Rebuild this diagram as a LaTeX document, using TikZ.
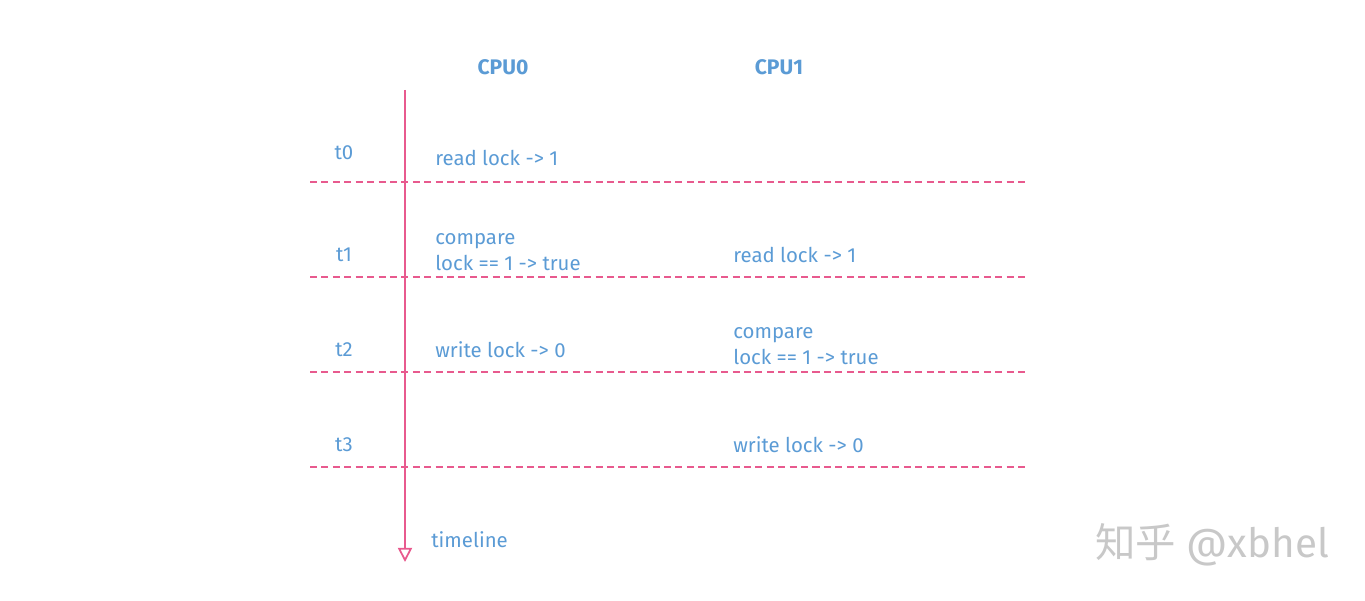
\documentclass[tikz,border=0pt]{standalone}
\usepackage{fontspec}
\setmainfont{Fira Sans}
\newfontfamily\cjkfont{Noto Sans CJK SC}
\usepackage{xcolor}
\usetikzlibrary{arrows.meta,positioning}
\definecolor{lineblue}{HTML}{5B9BD5}
\definecolor{linepink}{HTML}{E85A8E}
\definecolor{markgray}{HTML}{C8C8C8}
\tikzset{
  step text/.style={text=lineblue,font=\fontsize{11.6}{13}\selectfont,anchor=west,inner sep=0pt},
  tick text/.style={text=lineblue,font=\fontsize{11.6}{13}\selectfont,inner sep=0pt},
  cpu head/.style={text=lineblue,font=\fontsize{12}{14}\selectfont\bfseries,inner sep=0pt},
  slot line/.style={linepink,dashed,dash pattern=on 4pt off 2.5pt,line width=0.75pt},
}
\begin{document}
\begin{tikzpicture}[x=0.02cm,y=-0.02cm]
  \useasboundingbox (0,0) rectangle (1365,601);
  % headers
  \node[cpu head] (cpu0) at (503,67) {CPU0};
  \node[cpu head] (cpu1) at (779,67) {CPU1};
  % timeline
  \coordinate (tstart) at (405,90);
  \coordinate (tend) at (405,562);
  \draw[linepink,line width=1pt,-{Triangle[open,width=8pt,length=8pt]}] (tstart) -- (tend);
  \node[step text] (tlabel) at (431,540) {timeline};
  % slot separators
  \foreach \y/\n in {182/a,277/b,372/c,467/d}{
    \coordinate (sep\n l) at (310,\y);
    \coordinate (sep\n r) at (1025,\y);
    \draw[slot line] (sep\n l) -- (sep\n r);
  }
  % time ticks
  \node[tick text] (t0) at (344,153) {t0};
  \node[tick text] (t1) at (344,255) {t1};
  \node[tick text] (t2) at (344,350) {t2};
  \node[tick text] (t3) at (344,445) {t3};
  % CPU0 steps
  \node[step text] (c0read) at (435,158) {read lock -> 1};
  \node[step text] (c0cmp) at (435,241) {compare};
  \node[step text] (c0res) at (435,263) {lock == 1 -> true};
  \node[step text] (c0write) at (435,350) {write lock -> 0};
  % CPU1 steps
  \node[step text] (c1read) at (733,255) {read lock -> 1};
  \node[step text] (c1cmp) at (733,335) {compare};
  \node[step text] (c1res) at (733,357) {lock == 1 -> true};
  \node[step text] (c1write) at (733,445) {write lock -> 0};
  % watermark
  \node[text=markgray,font=\fontsize{23}{25}\selectfont,anchor=west,inner sep=0pt] (mark) at (1095,545) {{\cjkfont 知乎} @xbhel};
\end{tikzpicture}
\end{document}
